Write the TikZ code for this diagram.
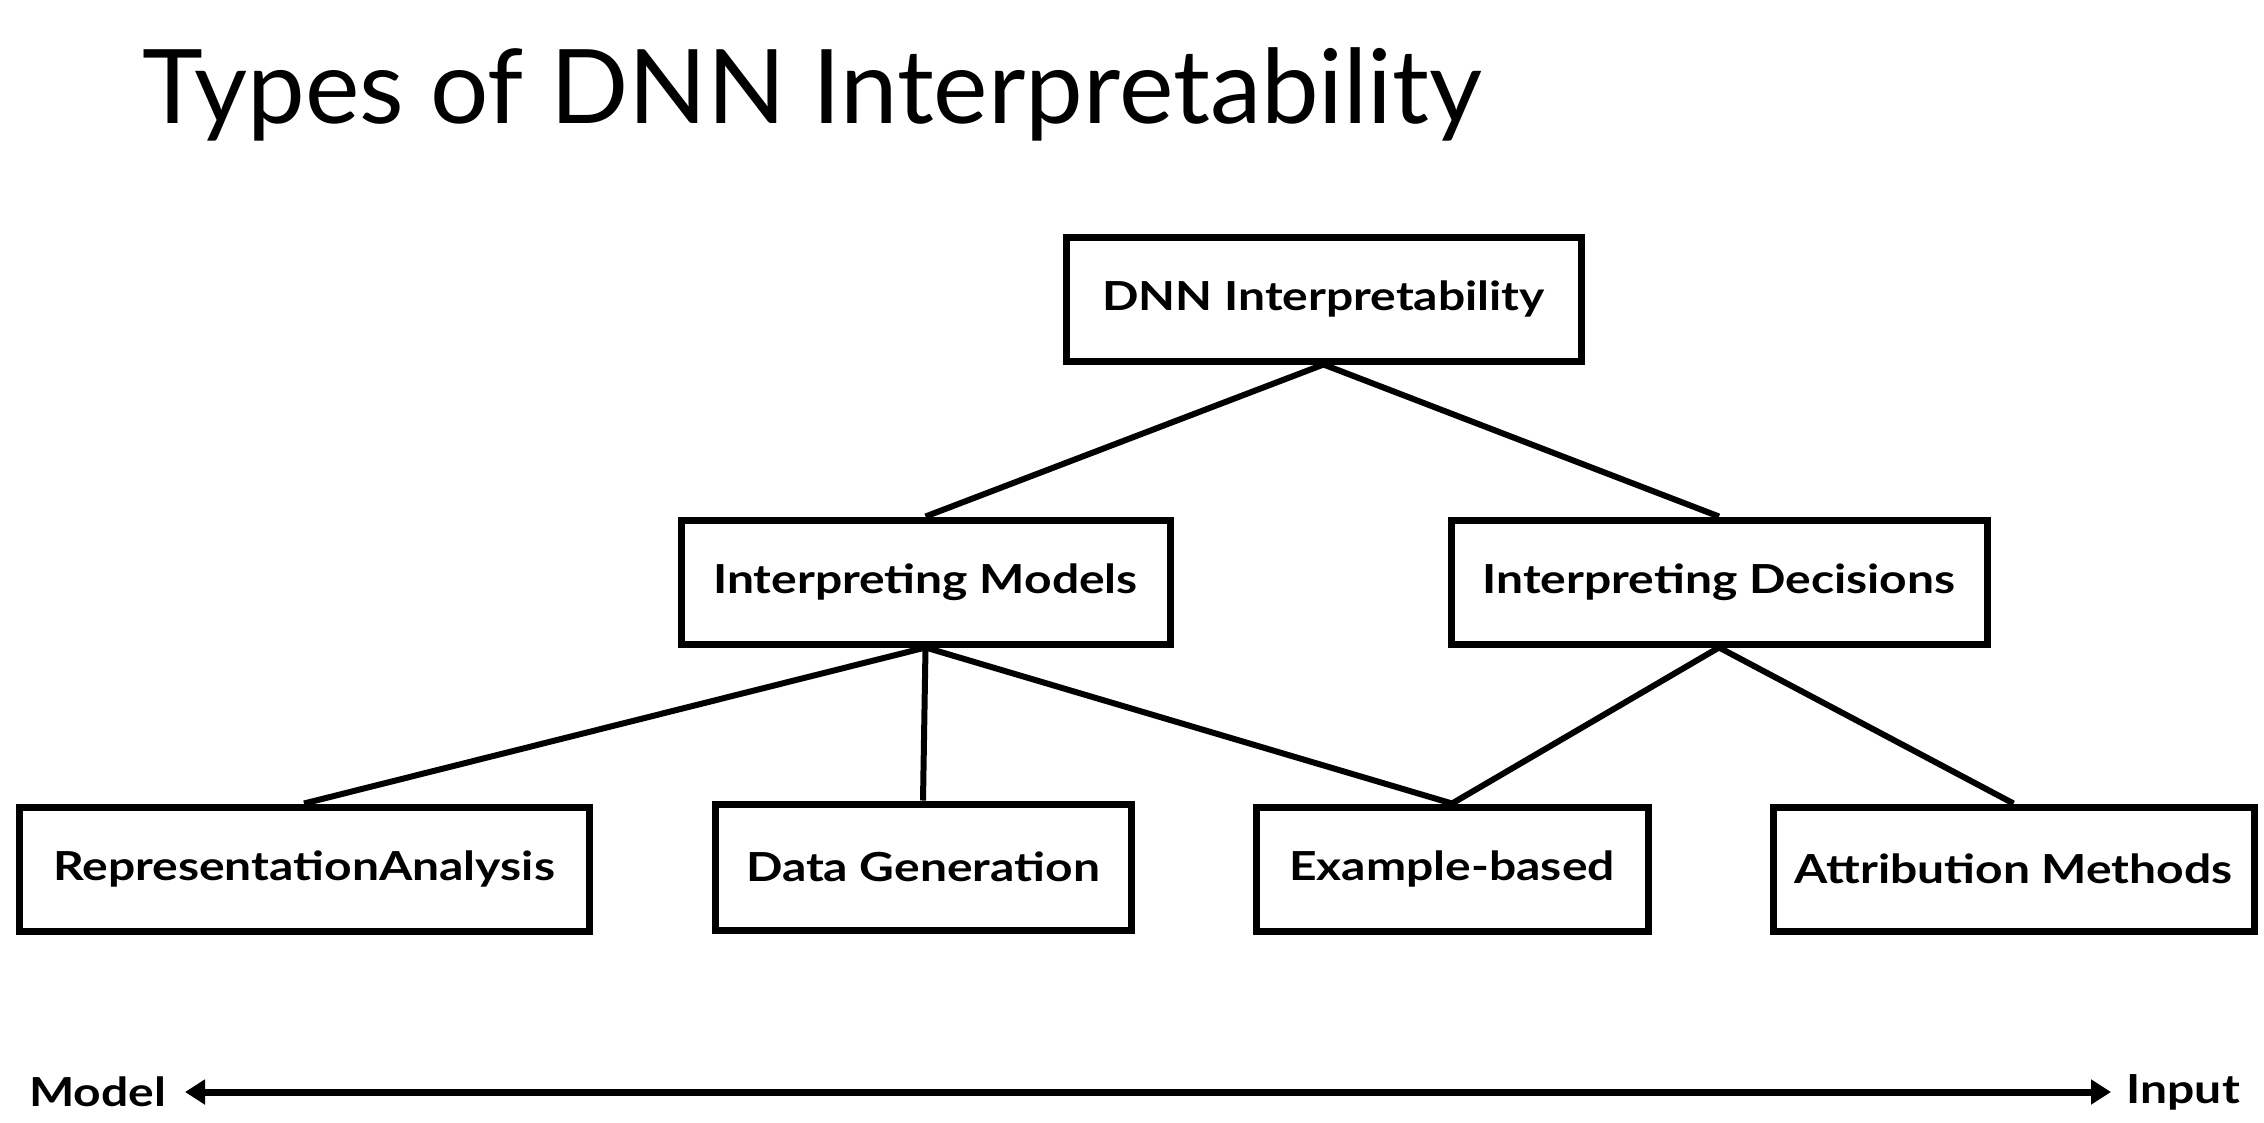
\documentclass[tikz,border=0pt]{standalone}
\usepackage{fontspec}
\setmainfont{Lato}
\newfontfamily\labfont{Lato}[FakeStretch=1.2]
\usetikzlibrary{arrows.meta}
\begin{document}
\begin{tikzpicture}[x=1pt,y=-1pt,
  box/.style={draw,line width=7pt,minimum height=124pt,inner sep=0pt,font=\labfont\fontsize{40}{44}\selectfont\bfseries},
  link/.style={line width=6pt},
  endlabel/.style={font=\labfont\fontsize{40}{44}\selectfont\bfseries,inner sep=0pt}]
\useasboundingbox (0,0) rectangle (2264,1122);
\node[anchor=base west,inner sep=0pt,font=\fontsize{103}{112}\selectfont] (title) at (142,123) {Types of DNN Interpretability};
\node[box,minimum width=515pt] (root) at (1323.5,299) {DNN Interpretability};
\node[box,minimum width=489pt] (im) at (925.5,582) {Interpreting Models};
\node[box,minimum width=536pt] (id) at (1719,582) {Interpreting Decisions};
\node[box,minimum width=570pt] (ra) at (304,869) {RepresentationAnalysis};
\node[box,minimum width=416pt,minimum height=126pt] (dg) at (923,867) {Data Generation};
\node[box,minimum width=392pt] (eb) at (1452,869) {Example-based};
\node[box,minimum width=481pt] (am) at (2013.5,869) {Attribution Methods};
\draw[link] (root.south) -- (im.north);
\draw[link] (root.south) -- (id.north);
\draw[link] (im.south) -- (ra.north);
\draw[link] (im.south) -- (dg.north);
\draw[link] (im.south) -- (eb.north);
\draw[link] (id.south) -- (eb.north);
\draw[link] (id.south) -- (am.north);
\node[endlabel,anchor=west] (model) at (29,1092) {Model};
\node[endlabel,anchor=east] (input) at (2240,1092) {Input};
\coordinate (al) at (185,1092);
\coordinate (ar) at (2111,1092);
\draw[line width=7pt,{Triangle[length=20pt,width=24pt]}-{Triangle[length=20pt,width=24pt]}] (al) -- (ar);
\end{tikzpicture}
\end{document}
